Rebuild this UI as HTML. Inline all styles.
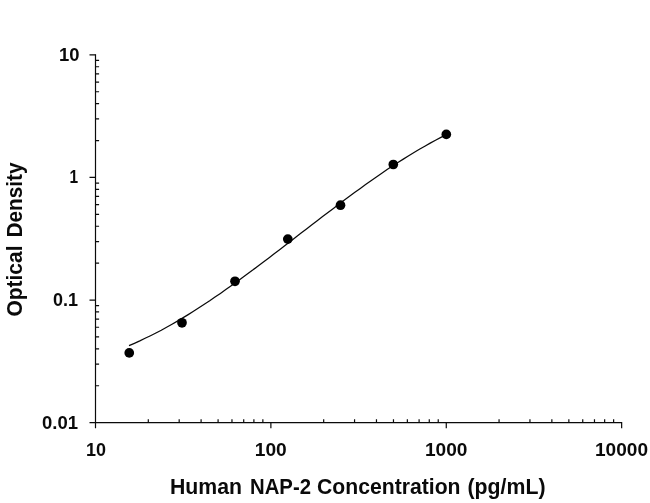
<!DOCTYPE html>
<html><head><meta charset="utf-8"><title>Human NAP-2 standard curve</title>
<style>
html,body{margin:0;padding:0;background:#fff;}
svg{display:block;}
text{font-family:"Liberation Sans",sans-serif;font-weight:bold;fill:#0a0a0a;}
.t{font-size:18px;}
.T{font-size:21.5px;}
</style></head><body>
<svg width="650" height="503" viewBox="0 0 650 503">
<rect width="650" height="503" fill="#fff"/>
<g stroke="#0a0a0a" stroke-width="1.2" fill="none">
<path d="M95.5,54.25 V428.15 M89.5,422.65 H622.25 M621.65,422.65 V428.15"/>
<path d="M89.5,54.85 H95.5 M89.5,177.45 H95.5 M89.5,300.05 H95.5 M270.88,422.65 V428.15 M446.27,422.65 V428.15 M95.5,385.74 h3.6 M148.30,422.65 v-3.4 M95.5,364.15 h3.6 M179.18,422.65 v-3.4 M95.5,348.84 h3.6 M201.09,422.65 v-3.4 M95.5,336.96 h3.6 M218.09,422.65 v-3.4 M95.5,327.25 h3.6 M231.97,422.65 v-3.4 M95.5,319.04 h3.6 M243.72,422.65 v-3.4 M95.5,311.93 h3.6 M253.89,422.65 v-3.4 M95.5,305.66 h3.6 M262.86,422.65 v-3.4 M95.5,263.14 h3.6 M323.68,422.65 v-3.4 M95.5,241.55 h3.6 M354.56,422.65 v-3.4 M95.5,226.24 h3.6 M376.47,422.65 v-3.4 M95.5,214.36 h3.6 M393.47,422.65 v-3.4 M95.5,204.65 h3.6 M407.36,422.65 v-3.4 M95.5,196.44 h3.6 M419.10,422.65 v-3.4 M95.5,189.33 h3.6 M429.27,422.65 v-3.4 M95.5,183.06 h3.6 M438.24,422.65 v-3.4 M95.5,140.54 h3.6 M499.06,422.65 v-3.4 M95.5,118.95 h3.6 M529.95,422.65 v-3.4 M95.5,103.64 h3.6 M551.86,422.65 v-3.4 M95.5,91.76 h3.6 M568.85,422.65 v-3.4 M95.5,82.05 h3.6 M582.74,422.65 v-3.4 M95.5,73.84 h3.6 M594.48,422.65 v-3.4 M95.5,66.73 h3.6 M604.65,422.65 v-3.4 M95.5,60.46 h3.6 M613.62,422.65 v-3.4"/>
<path d="M129.0,345.6 L134.4,343.3 L139.8,340.9 L145.1,338.3 L150.5,335.7 L155.9,333.0 L161.3,330.2 L166.6,327.2 L172.0,324.2 L177.4,321.1 L182.8,317.9 L188.2,314.6 L193.5,311.3 L198.9,307.8 L204.3,304.3 L209.7,300.8 L215.0,297.1 L220.4,293.4 L225.8,289.6 L231.2,285.8 L236.6,281.9 L241.9,278.0 L247.3,274.0 L252.7,270.1 L258.1,266.0 L263.4,262.0 L268.8,257.9 L274.2,253.8 L279.6,249.7 L285.0,245.5 L290.3,241.4 L295.7,237.2 L301.1,233.1 L306.5,228.9 L311.9,224.8 L317.2,220.7 L322.6,216.6 L328.0,212.5 L333.4,208.4 L338.7,204.3 L344.1,200.3 L349.5,196.3 L354.9,192.3 L360.3,188.4 L365.6,184.6 L371.0,180.7 L376.4,177.0 L381.8,173.3 L387.1,169.6 L392.5,166.0 L397.9,162.5 L403.3,159.1 L408.7,155.7 L414.0,152.5 L419.4,149.3 L424.8,146.2 L430.2,143.1 L435.5,140.2 L440.9,137.4 L446.3,134.7" stroke-width="1.25"/>
</g>
<g fill="#000">
<circle cx="129.25" cy="352.9" r="4.85"/>
<circle cx="182.0" cy="322.8" r="4.85"/>
<circle cx="235.0" cy="281.3" r="4.85"/>
<circle cx="287.8" cy="239.1" r="4.85"/>
<circle cx="340.5" cy="205.2" r="4.85"/>
<circle cx="393.3" cy="164.5" r="4.85"/>
<circle cx="446.3" cy="134.4" r="4.85"/>
</g>
<g class="t">
<text x="59.0" y="60.5" textLength="20.5" lengthAdjust="spacingAndGlyphs">10</text>
<text x="69.4" y="183.3" textLength="8.6" lengthAdjust="spacingAndGlyphs">1</text>
<text x="53.0" y="306.2" textLength="25" lengthAdjust="spacingAndGlyphs">0.1</text>
<text x="42.0" y="428.6" textLength="36" lengthAdjust="spacingAndGlyphs">0.01</text>
<text x="86.0" y="456" textLength="20" lengthAdjust="spacingAndGlyphs">10</text>
<text x="254.8" y="456" textLength="32" lengthAdjust="spacingAndGlyphs">100</text>
<text x="425" y="456" textLength="42.5" lengthAdjust="spacingAndGlyphs">1000</text>
<text x="595.0" y="456" textLength="53" lengthAdjust="spacingAndGlyphs">10000</text>
</g>
<g class="T">
<text x="170" y="494.4" textLength="72" lengthAdjust="spacingAndGlyphs">Human</text>
<text x="250" y="494.4" textLength="61" lengthAdjust="spacingAndGlyphs">NAP-2</text>
<text x="317" y="494.4" textLength="143.5" lengthAdjust="spacingAndGlyphs">Concentration</text>
<text x="467.5" y="494.4" textLength="78" lengthAdjust="spacingAndGlyphs">(pg/mL)</text>
<g transform="translate(22.4,0) rotate(-90)">
<text x="-316.5" y="0" textLength="71" lengthAdjust="spacingAndGlyphs">Optical</text>
<text x="-237.5" y="0" textLength="75" lengthAdjust="spacingAndGlyphs">Density</text>
</g></g>
</svg></body></html>
